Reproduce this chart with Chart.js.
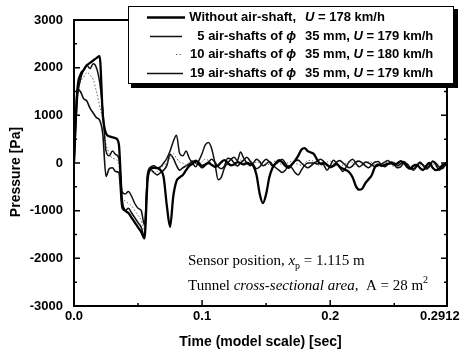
<!DOCTYPE html>
<html>
<head>
<meta charset="utf-8">
<script src="https://cdn.jsdelivr.net/npm/chart.js@4.4.0/dist/chart.umd.min.js"></script>
<style>
  html, body { margin: 0; padding: 0; background: #fff; }
  canvas { display: block; }
</style>
</head>
<body>
<canvas id="pressureChart" width="462" height="355"></canvas>
<script>
// time grid (model scale, sec)
const times = [0, 0.0025, 0.005, 0.0075, 0.01, 0.0125, 0.015, 0.0175, 0.02, 0.0225,
  0.025, 0.0275, 0.03, 0.0325, 0.035, 0.0375, 0.04, 0.0425, 0.045, 0.0475,
  0.05, 0.0525, 0.055, 0.0575, 0.06, 0.0625, 0.065, 0.0675, 0.07, 0.0725,
  0.075, 0.0775, 0.08, 0.0825, 0.085, 0.0875, 0.09, 0.0925, 0.095, 0.0975,
  0.1, 0.1025, 0.105, 0.1075, 0.11, 0.1125, 0.115, 0.1175, 0.12, 0.1225,
  0.125, 0.1275, 0.13, 0.1325, 0.135, 0.1375, 0.14, 0.1425, 0.145, 0.1475,
  0.15, 0.1525, 0.155, 0.1575, 0.16, 0.1625, 0.165, 0.1675, 0.17, 0.1725,
  0.175, 0.1775, 0.18, 0.1825, 0.185, 0.1875, 0.19, 0.1925, 0.195, 0.1975,
  0.2, 0.2025, 0.205, 0.2075, 0.21, 0.2125, 0.215, 0.2175, 0.22, 0.2225,
  0.225, 0.2275, 0.23, 0.2325, 0.235, 0.2375, 0.24, 0.2425, 0.245, 0.2475,
  0.25, 0.2525, 0.255, 0.2575, 0.26, 0.2625, 0.265, 0.2675, 0.27, 0.2725,
  0.275, 0.2775, 0.28, 0.2825, 0.285, 0.2875, 0.29, 0.2912];

// pressure [Pa]
const noShaft = [0, 1500, 1850, 1950, 2050, 2100, 2150, 2200, 2240, 1000,
  620, 560, 540, 520, 400, -800, -1000, -1050, -1150, -1250,
  -1350, -1450, -1580, -350, -120, -100, -110, -150, -300, -900,
  -1340, -700, -380, -300, -250, -150, -60, -20, 50, 0,
  -60, -30, 0, -40, -80, -50, 20, 60, 0, -50,
  -30, 20, 0, -30, 0, -20, -60, -250, -650, -840,
  -650, -300, -100, 0, 60, 20, -60, -100, -30, 50,
  150, 280, 310, 250, 220, 180, 60, -20, 0, -40,
  -80, -60, -20, -80, -120, -150, -200, -300, -480, -560,
  -540, -420, -340, -250, -80, -30, -60, -40, -20, 0,
  -30, -10, 40, 0, -80, -120, -60, -40, -100, -150,
  -60, 0, -100, -150, -130, -50, -20, -10];

const shafts5 = [0, 1300, 1750, 1950, 2050, 1980, 2080, 2000, 1700, 1100,
  250, 150, 250, 180, 100, -600, -650, -600, -700, -850,
  -950, -1000, -1300, -200, -80, -60, -100, -80, 0, 100,
  250, 450, 580, 200, 150, 250, 100, 0, -80, 50,
  200, 380, 430, 300, 0, -350, -300, -100, 0, 80,
  120, 50, 230, 100, 0, -60, 0, 80, 30, -60,
  -20, 30, -40, -100, -150, -200, -150, -60, -100, -200,
  -250, -150, -50, 0, 0, 0, -20, 0, -40, -150,
  -60, 60, 0, -100, -180, -80, 30, 80, 0, -80,
  -40, 20, 0, -40, -80, -60, -20, 20, 50, 0,
  -40, -100, -80, 0, -20, -100, -150, -80, 0, -50,
  -130, -80, 30, -40, -150, -100, 0, -30];

const shafts10 = [0, 1400, 1700, 1800, 1900, 1850, 1750, 1500, 1200, 900,
  400, 200, 100, 80, -50, -700, -800, -850, -900, -1000,
  -1100, -1200, -1400, -300, -150, -200, -180, -100, -50, 0,
  100, 200, 100, 20, 0, -50, 20, 60, 0, -40,
  30, 80, 50, -20, -60, -40, 0, 40, 20, -30,
  -20, 30, 60, 20, -30, -60, -20, 20, 0, -40,
  -60, -20, 20, 40, 0, -40, -20, 10, 30, 0,
  -30, -50, 0, 40, 60, 20, -30, -60, -20, 20,
  40, 0, -50, -80, -40, 0, 30, 10, -30, -60,
  -40, 0, 30, 10, -40, -60, -20, 20, 0, -40,
  -70, -30, 10, -20, -60, -80, -40, 0, -30, -80,
  -60, -10, -20, -70, -100, -60, -20, -30];

const shafts19 = [0, 1550, 1500, 1350, 1300, 1150, 1050, 950, 900, 600,
  -280, -120, -100, -180, -200, -950, -1000, -950, -1050, -1150,
  -1250, -1350, -1550, -250, -150, -200, -250, -200, -150, -50,
  180, 100, -50, -150, -100, -60, -20, 40, 0, -40,
  -100, -50, 20, 80, 20, -80, -120, -60, 100, 80,
  0, -60, 0, 60, 120, 40, -30, -120, -80, 20,
  80, 20, -60, -20, 30, 80, 0, -80, -40, 40,
  60, 0, -60, -100, -60, 0, 40, 80, 30, -30,
  -100, -60, 20, 50, 0, -60, -100, -60, 20, 40,
  0, -60, -100, -40, 20, 30, -40, -80, -30, 20,
  0, -60, -20, 30, -30, -100, -120, -60, 20, -40,
  -100, -60, 40, 0, -80, -120, -40, 0];

const xTicks = [0, 0.1, 0.2, 0.2912];
const xTickLabels = ["0.0", "0.1", "0.2", "0.2912"];
const xMinorTicks = [0.05, 0.15, 0.25];
const yTicks = [-3000, -2000, -1000, 0, 1000, 2000, 3000];
const yMinorTicks = [-2500, -1500, -500, 500, 1500, 2500];

const legendLeft = ["Without air-shaft,", "5 air-shafts of ", "10 air-shafts of ", "19 air-shafts of "];
const legendDiam = ["", "35 mm, ", "35 mm, ", "35 mm, "];
const legendSpeed = ["178", "179", "180", "179"];

const SANS = '"Liberation Sans", Arial, sans-serif';
const SERIF = '"Liberation Serif", "Times New Roman", serif';

function points(vals) {
  return times.map((t, i) => ({ x: t, y: vals[i] }));
}

function drawRuns(ctx, runs, x, y) {
  runs.forEach(r => {
    ctx.font = r[1];
    ctx.fillText(r[0], x, y + (r[2] || 0));
    x += ctx.measureText(r[0]).width;
  });
  return x;
}

function runsWidth(ctx, runs) {
  let w = 0;
  runs.forEach(r => { ctx.font = r[1]; w += ctx.measureText(r[0]).width; });
  return w;
}

const framePlugin = {
  id: "frame",
  afterDatasetsDraw(chart) {
    const { ctx, chartArea: a, scales: { x, y } } = chart;
    ctx.save();
    ctx.strokeStyle = "#000";
    ctx.lineWidth = 2;
    ctx.strokeRect(a.left, a.top, a.right - a.left, a.bottom - a.top);

    // inward ticks
    ctx.lineWidth = 1.5;
    ctx.beginPath();
    const tickX = (v, len) => {
      const px = x.getPixelForValue(v);
      ctx.moveTo(px, a.bottom); ctx.lineTo(px, a.bottom - len);
      ctx.moveTo(px, a.top); ctx.lineTo(px, a.top + len);
    };
    const tickY = (v, len) => {
      const py = y.getPixelForValue(v);
      ctx.moveTo(a.left, py); ctx.lineTo(a.left + len, py);
      ctx.moveTo(a.right, py); ctx.lineTo(a.right - len, py);
    };
    xTicks.forEach(v => tickX(v, 6));
    xMinorTicks.forEach(v => tickX(v, 3));
    yTicks.forEach(v => tickY(v, 6));
    yMinorTicks.forEach(v => tickY(v, 3));
    ctx.stroke();

    // axis titles
    ctx.fillStyle = "#000";
    ctx.font = "bold 14px " + SANS;
    ctx.textAlign = "center";
    ctx.textBaseline = "middle";
    ctx.fillText("Time (model scale) [sec]", (a.left + a.right) / 2, 342);
    ctx.save();
    ctx.translate(16, 172);
    ctx.rotate(-Math.PI / 2);
    ctx.fillText("Pressure [Pa]", 0, 0);
    ctx.restore();
    ctx.restore();
  },
  afterDraw(chart) {
    const ctx = chart.ctx;
    ctx.save();
    // legend box with shadow
    ctx.fillStyle = "#000";
    ctx.fillRect(131, 9, 327, 79);
    ctx.fillStyle = "#fff";
    ctx.fillRect(128, 6, 326, 78);
    ctx.strokeStyle = "#000";
    ctx.lineWidth = 1;
    ctx.strokeRect(128.5, 6.5, 325, 77);

    const rowY = [17, 36, 54, 73];
    const ds = chart.data.datasets;
    const sample = [[147, 185], [150, 182], [176, 182], [147, 183]];
    ctx.textBaseline = "middle";
    ctx.fillStyle = "#000";
    const bold = "bold 13px " + SANS;
    const boldIt = "italic bold 13px " + SANS;
    rowY.forEach((ry, i) => {
      ctx.beginPath();
      ctx.strokeStyle = ds[i].borderColor;
      ctx.lineWidth = ds[i].borderWidth;
      ctx.setLineDash(ds[i].borderDash || []);
      ctx.moveTo(sample[i][0], ry + 0.5);
      ctx.lineTo(sample[i][1], ry + 0.5);
      ctx.stroke();
      ctx.setLineDash([]);

      const left = [[legendLeft[i], bold]];
      if (i > 0) left.push(["\u03D5", boldIt]);
      ctx.textAlign = "left";
      drawRuns(ctx, left, 296 - runsWidth(ctx, left), ry);
      const right = [[legendDiam[i], bold], ["U", boldIt], [" = " + legendSpeed[i] + " km/h", bold]];
      drawRuns(ctx, right, 305, ry);
    });

    // annotations
    const serif = "15px " + SERIF;
    const serifIt = "italic 15px " + SERIF;
    const small = "10px " + SERIF;
    ctx.textBaseline = "alphabetic";
    drawRuns(ctx, [["Sensor position, ", serif], ["x", serifIt], ["p", small, 4], [" = 1.115 m", serif]], 188, 265);
    drawRuns(ctx, [["Tunnel ", serif], ["cross-sectional area,", serifIt], ["  A = 28 m", serif], ["2", small, -7]], 188, 290);
    ctx.restore();
  }
};

new Chart(document.getElementById("pressureChart"), {
  type: "line",
  data: {
    datasets: [
      { label: "Without air-shaft", data: points(noShaft), borderColor: "#000", borderWidth: 2.3 },
      { label: "5 air-shafts", data: points(shafts5), borderColor: "#111", borderWidth: 1.5 },
      { label: "10 air-shafts", data: points(shafts10), borderColor: "#666", borderWidth: 1, borderDash: [1.5, 2] },
      { label: "19 air-shafts", data: points(shafts19), borderColor: "#111", borderWidth: 1.6 }
    ]
  },
  options: {
    responsive: false,
    animation: false,
    events: [],
    layout: { padding: { top: 20, right: 15, left: 0, bottom: 0 } },
    elements: {
      point: { radius: 0 },
      line: { tension: 0.35, cubicInterpolationMode: "monotone", fill: false }
    },
    plugins: { legend: { display: false }, tooltip: { enabled: false } },
    scales: {
      x: {
        type: "linear",
        min: 0,
        max: 0.2912,
        grid: { display: false, drawTicks: false },
        border: { display: false },
        afterBuildTicks: s => { s.ticks = xTicks.map(v => ({ value: v })); },
        afterFit: s => { s.height = 49; s.paddingLeft = 0; s.paddingRight = 0; },
        ticks: {
          autoSkip: false,
          maxRotation: 0,
          padding: 3,
          color: "#000",
          font: { family: SANS, size: 13, weight: "bold" },
          callback: (v, i) => i === xTicks.length - 1 ? xTickLabels[i] + "    " : xTickLabels[i]
        }
      },
      y: {
        min: -3000,
        max: 3000,
        grid: { display: false, drawTicks: false },
        border: { display: false },
        afterBuildTicks: s => { s.ticks = yTicks.map(v => ({ value: v })); },
        afterFit: s => { s.width = 74; s.paddingTop = 0; s.paddingBottom = 0; },
        ticks: {
          padding: 11,
          color: "#000",
          font: { family: SANS, size: 13, weight: "bold" },
          callback: v => String(v)
        }
      }
    }
  },
  plugins: [framePlugin]
});
</script>
</body>
</html>
